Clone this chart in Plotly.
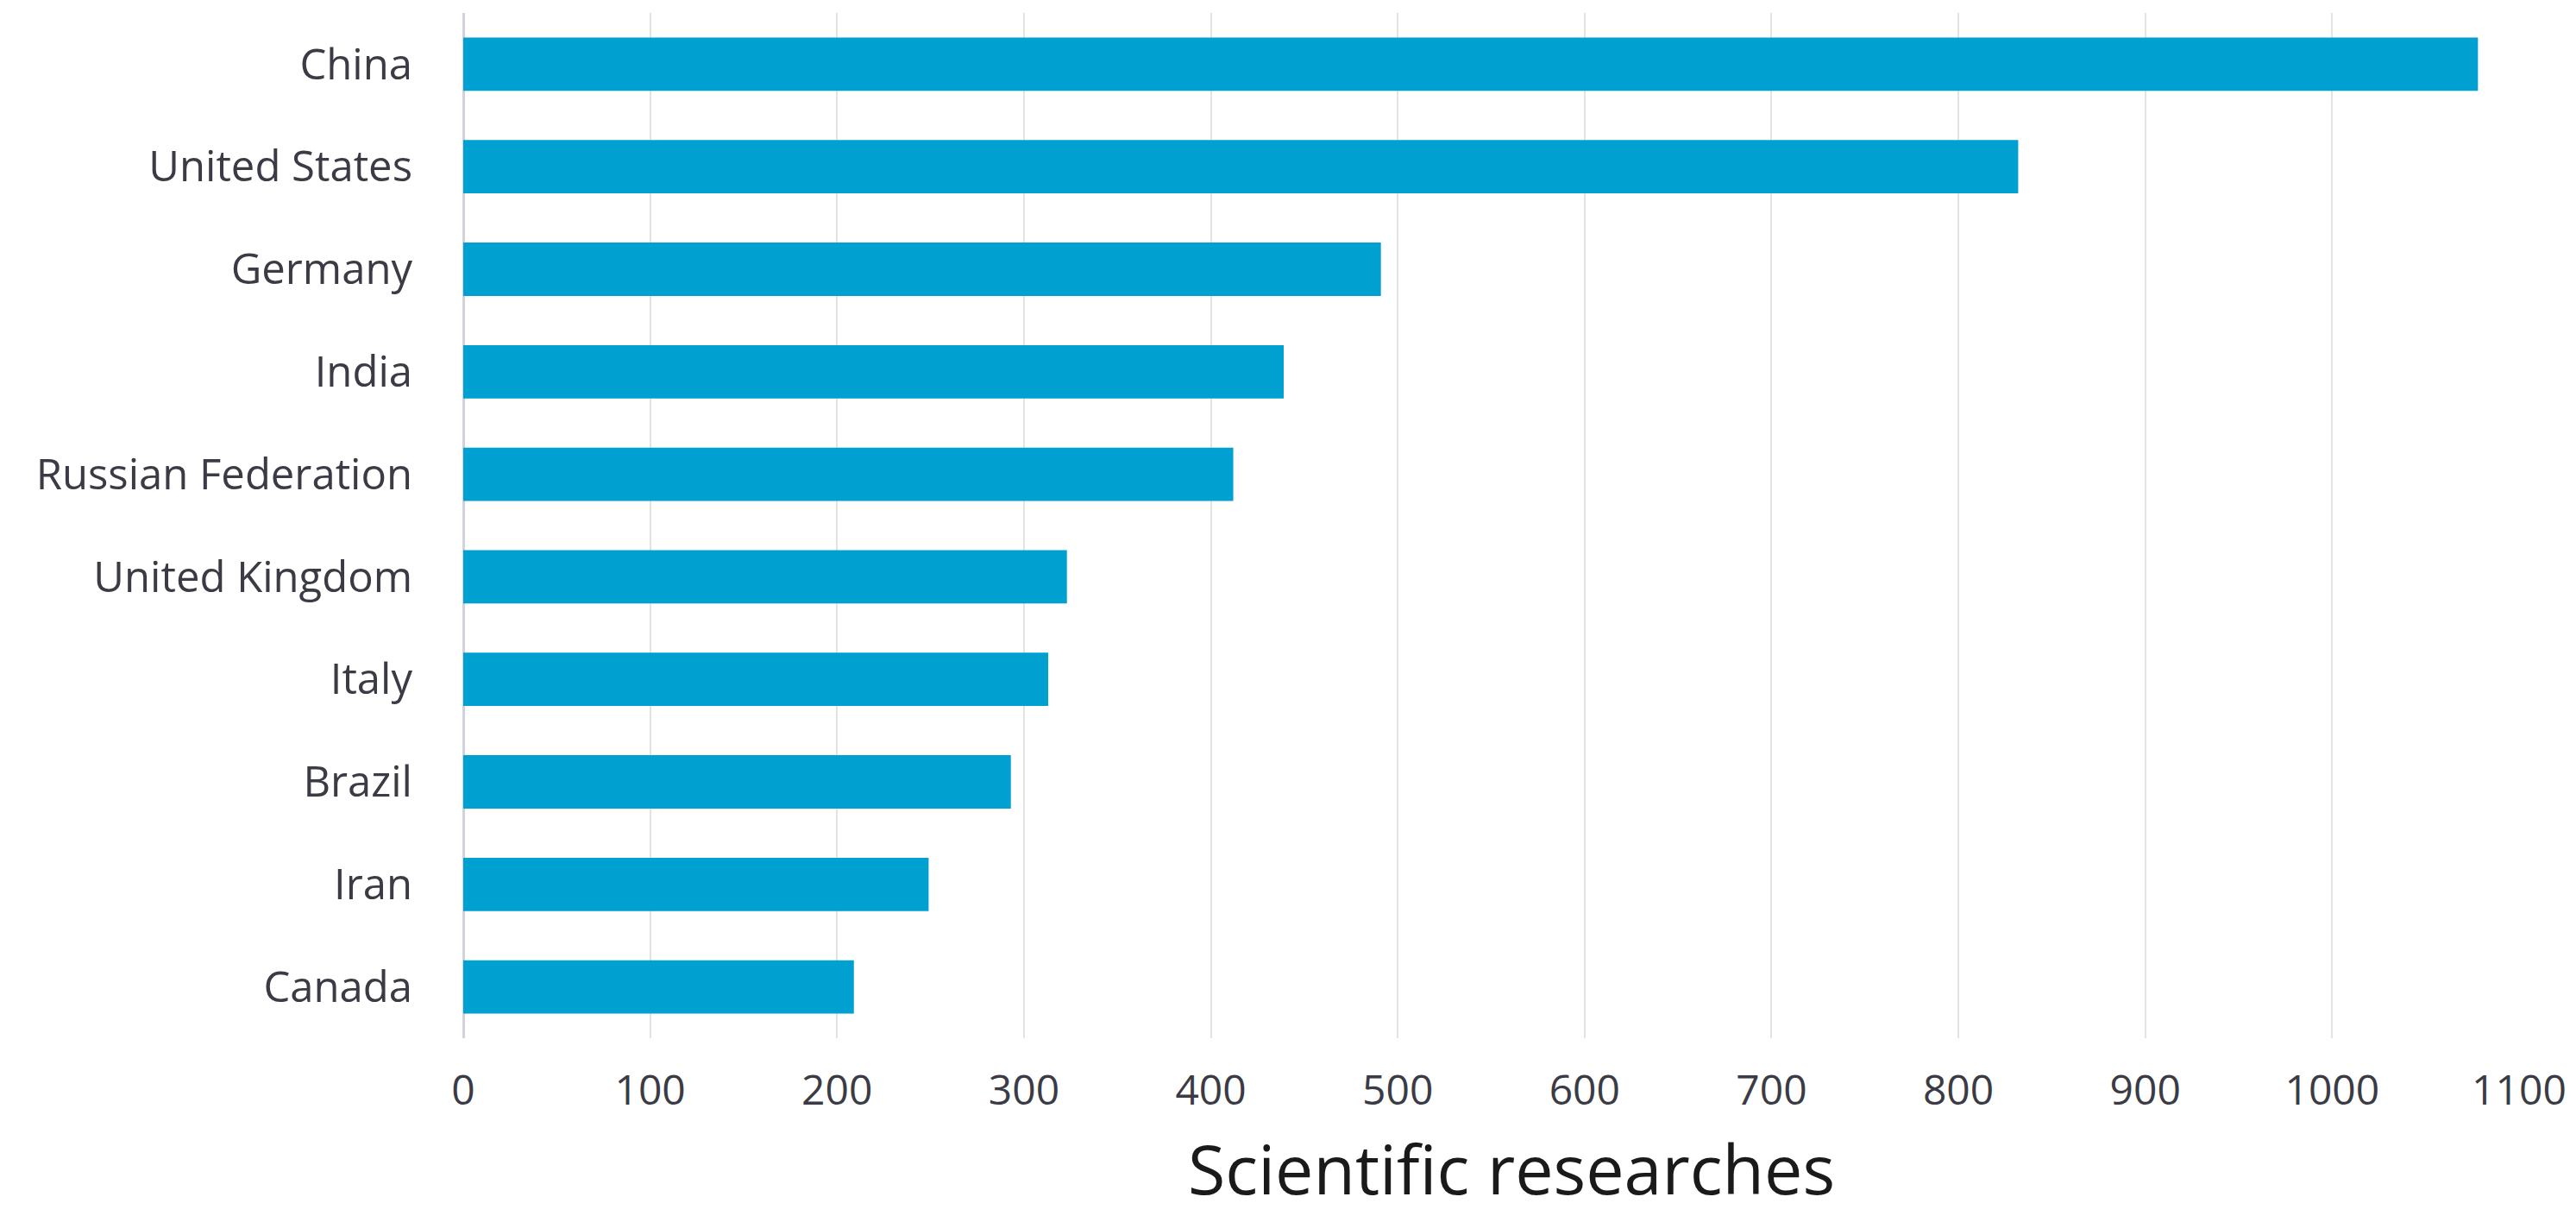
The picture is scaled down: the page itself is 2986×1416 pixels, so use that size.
import plotly.graph_objects as go

countries = ["China", "United States", "Germany", "India", "Russian Federation",
             "United Kingdom", "Italy", "Brazil", "Iran", "Canada"]
researches = [1078, 832, 491, 439, 412, 323, 313, 293, 249, 209]
x_ticks = [0, 100, 200, 300, 400, 500, 600, 700, 800, 900, 1000, 1100]
x_title = "Scientific researches"

BAR = "#00A0D0"
TXT = "#3b3b45"

fig = go.Figure(go.Bar(
    x=researches, y=countries, orientation="h",
    marker=dict(color=BAR, line=dict(width=0)),
    width=0.52,
))

# the page body adds an 8px offset, so the figure is 8px smaller and margins compensate
fig.update_layout(
    width=2978, height=1408,
    margin=dict(l=529, r=66, t=7, b=213, pad=0, autoexpand=False),
    paper_bgcolor="white", plot_bgcolor="white",
    showlegend=False,
    font=dict(family="'Open Sans', 'Noto Sans', sans-serif", size=50, color=TXT),
    annotations=[dict(
        text=x_title, xref="paper", yref="paper", x=0.51, y=-0.127,
        xanchor="center", yanchor="middle", showarrow=False,
        font=dict(family="'Open Sans', sans-serif", size=79, color="#1a1a1a"),
    )],
)
fig.update_xaxes(
    range=[0, 1100], tickvals=x_ticks, ticktext=[str(v) for v in x_ticks],
    showgrid=True, gridcolor="#E3E3E6", gridwidth=2,
    zeroline=True, zerolinecolor="#D2D2DE", zerolinewidth=3,
    showline=False, ticks="", ticklabelstandoff=28, automargin=False,
    tickfont=dict(size=48, color=TXT),
)
fig.update_yaxes(
    categoryorder="array", categoryarray=countries, autorange="reversed",
    showgrid=False, showline=False, ticks="", ticklabelstandoff=58, automargin=False,
    tickfont=dict(size=49, color=TXT),
)

fig.write_html("out.html")
